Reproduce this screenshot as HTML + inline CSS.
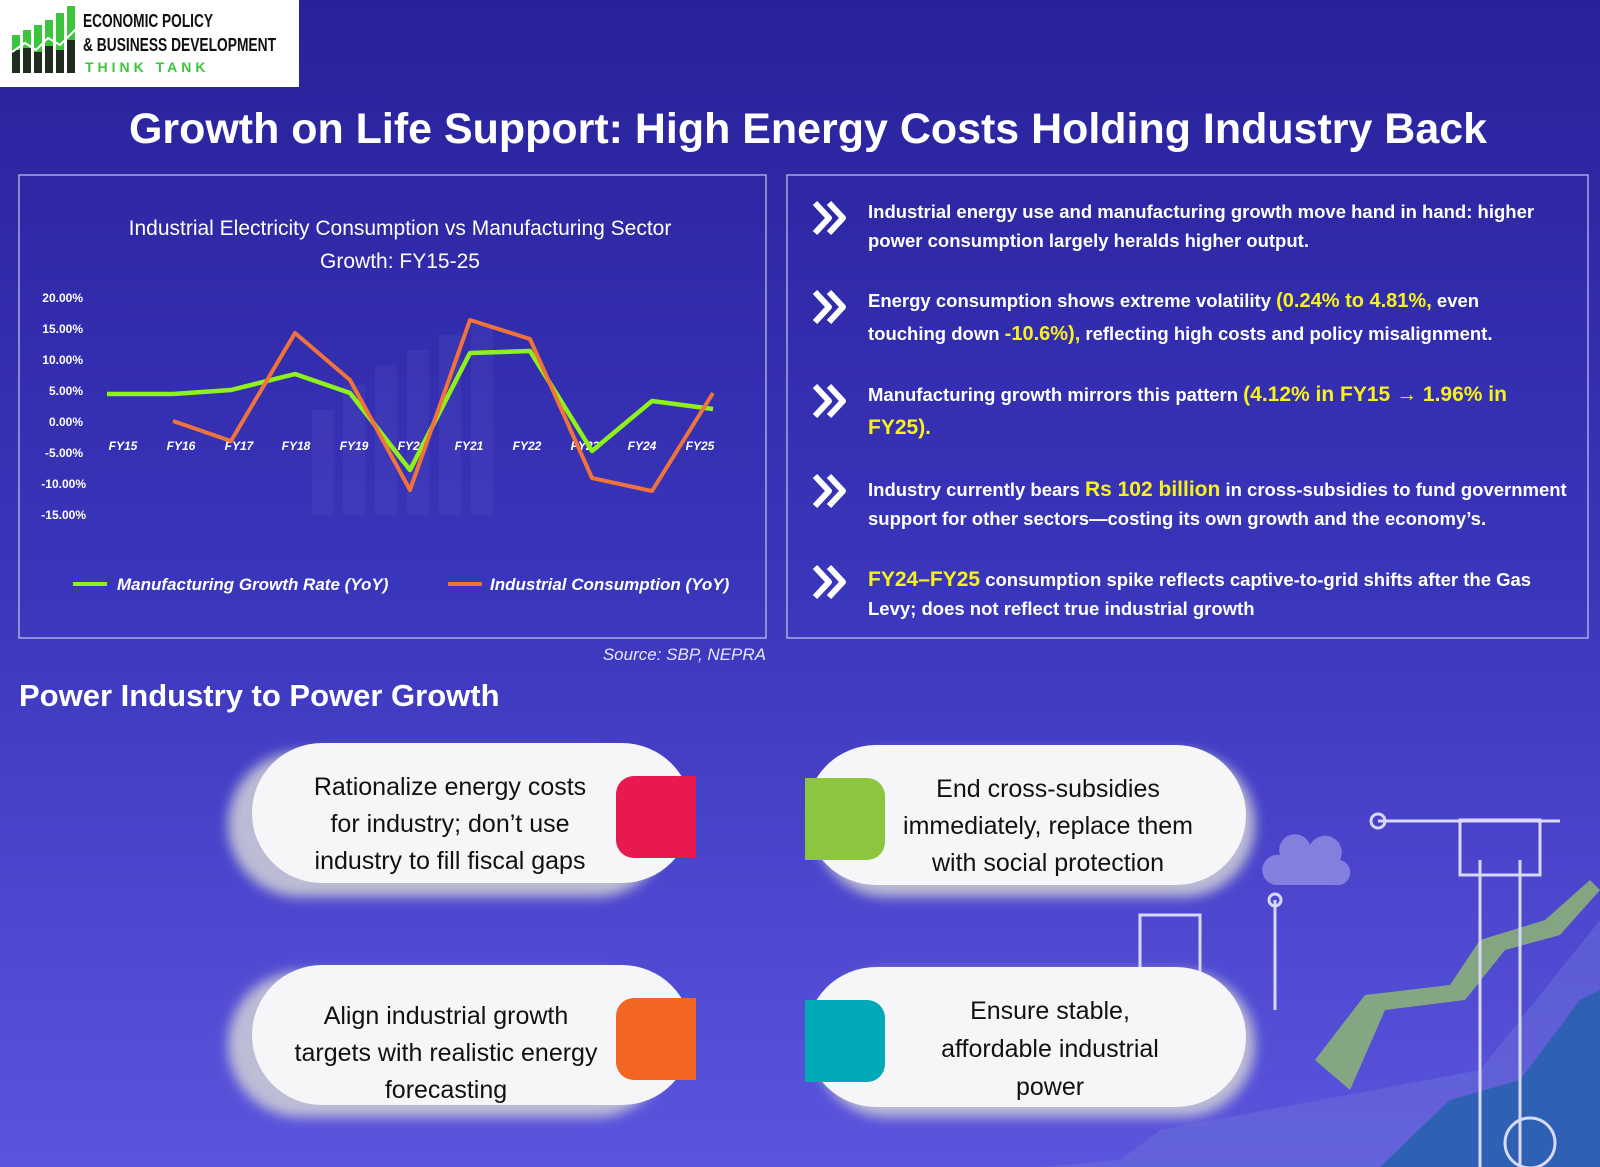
<!DOCTYPE html>
<html style="background:#5b55de"><head><meta charset="utf-8"><style>
html,body{margin:0;padding:0;background:#5b55de;}
body{width:1600px;height:1167px;overflow:hidden;font-family:"Liberation Sans",sans-serif;}
svg{display:block;}
</style></head><body>
<svg width="1600" height="1167" viewBox="0 0 1600 1167" xmlns="http://www.w3.org/2000/svg" font-family="Liberation Sans, sans-serif">
<defs>
<linearGradient id="bg" x1="0" y1="0" x2="0" y2="1">
<stop offset="0" stop-color="#28219a"/><stop offset="0.5" stop-color="#3a36bb"/><stop offset="1" stop-color="#5b55de"/>
</linearGradient>
<filter id="sh" x="-20%" y="-20%" width="140%" height="160%"><feGaussianBlur stdDeviation="6"/></filter>
</defs>
<rect width="1600" height="1167" fill="url(#bg)"/>
<!-- logo -->
<rect x="0" y="0" width="299" height="87" fill="#fff"/>
<g fill="#3cc43c"><rect x="12" y="35" width="8" height="38"/><rect x="23" y="30" width="8" height="43"/><rect x="34" y="25" width="8" height="48"/><rect x="45" y="20" width="8" height="53"/><rect x="56" y="13" width="8" height="60"/><rect x="67" y="6" width="8" height="67"/></g>
<g fill="#1f2d1f"><rect x="12" y="50" width="8" height="23"/><rect x="23" y="48" width="8" height="25"/><rect x="34" y="52" width="8" height="21"/><rect x="45" y="46" width="8" height="27"/><rect x="56" y="50" width="8" height="23"/><rect x="67" y="40" width="8" height="33"/></g>
<polyline points="12,52 25,43 36,50 48,38 60,45 80,25" fill="none" stroke="#fff" stroke-width="2"/>
<text x="83" y="27" font-size="18" font-weight="bold" fill="#111" textLength="130" lengthAdjust="spacingAndGlyphs">ECONOMIC POLICY</text>
<text x="83" y="51" font-size="18" font-weight="bold" fill="#111" textLength="193" lengthAdjust="spacingAndGlyphs">&amp; BUSINESS DEVELOPMENT</text>
<text x="85" y="72" font-size="14" font-weight="bold" fill="#3cc43c" letter-spacing="4">THINK TANK</text>
<!-- title -->
<text x="808" y="143" text-anchor="middle" font-size="43" font-weight="bold" fill="#fff" textLength="1358" lengthAdjust="spacingAndGlyphs">Growth on Life Support: High Energy Costs Holding Industry Back</text>
<!-- chart box -->
<rect x="19" y="175" width="747" height="463" fill="none" stroke="#c8c4f0" stroke-width="1.2"/>
<text x="400" y="235" text-anchor="middle" font-size="21" fill="#fff">Industrial Electricity Consumption vs Manufacturing Sector</text>
<text x="400" y="268" text-anchor="middle" font-size="21" fill="#fff">Growth: FY15-25</text>
<g font-size="12" fill="#fff" font-weight="bold" text-anchor="end">
<text x="83" y="302">20.00%</text><text x="83" y="333">15.00%</text><text x="83" y="364">10.00%</text><text x="83" y="395">5.00%</text><text x="83" y="426">0.00%</text><text x="83" y="457">-5.00%</text><text x="86" y="488">-10.00%</text><text x="86" y="519">-15.00%</text>
</g>
<!-- faint bars -->
<g fill="#5a54c8" opacity="0.22"><rect x="312" y="410" width="22" height="105"/><rect x="343" y="385" width="22" height="130"/><rect x="375" y="365" width="22" height="150"/><rect x="407" y="350" width="22" height="165"/><rect x="439" y="335" width="22" height="180"/><rect x="471" y="325" width="22" height="190"/></g>
<g font-size="12" fill="#fff" font-weight="bold" font-style="italic" text-anchor="middle">
<text x="123" y="450">FY15</text><text x="181" y="450">FY16</text><text x="239" y="450">FY17</text><text x="296" y="450">FY18</text><text x="354" y="450">FY19</text><text x="412" y="450">FY20</text><text x="469" y="450">FY21</text><text x="527" y="450">FY22</text><text x="585" y="450">FY23</text><text x="642" y="450">FY24</text><text x="700" y="450">FY25</text>
</g>
<polyline points="107,394 173,394 231,390 295,374 350,393 410,470 470,353 530,351 592,451 652,401 713,409" fill="none" stroke="#8ef21a" stroke-width="4.5" stroke-linejoin="round"/>
<polyline points="173,421 231,441 295,333 350,380 410,490 470,320 530,339 592,478 652,491 713,393" fill="none" stroke="#f0743a" stroke-width="4" stroke-linejoin="round"/>
<line x1="73" y1="584" x2="107" y2="584" stroke="#8ef21a" stroke-width="4"/>
<text x="117" y="590" font-size="17" fill="#fff" font-style="italic" font-weight="bold">Manufacturing Growth Rate (YoY)</text>
<line x1="448" y1="584" x2="482" y2="584" stroke="#f0743a" stroke-width="4"/>
<text x="490" y="590" font-size="17" fill="#fff" font-style="italic" font-weight="bold">Industrial Consumption (YoY)</text>
<text x="766" y="660" text-anchor="end" font-size="17" fill="#e8e6ff" font-style="italic">Source: SBP, NEPRA</text>
<!-- right box -->
<rect x="787" y="175" width="801" height="463" fill="none" stroke="#c8c4f0" stroke-width="1.2"/>
<g fill="none" stroke="#fff" stroke-width="6" stroke-linejoin="round">
<polyline points="815,203 829,218 815,233"/><polyline points="829,203 843,218 829,233"/>
<polyline points="815,292 829,307 815,322"/><polyline points="829,292 843,307 829,322"/>
<polyline points="815,386 829,401 815,416"/><polyline points="829,386 843,401 829,416"/>
<polyline points="815,476 829,491 815,506"/><polyline points="829,476 843,491 829,506"/>
<polyline points="815,567 829,582 815,597"/><polyline points="829,567 843,582 829,597"/>
</g>
<g font-size="18.5" font-weight="bold" fill="#fff">
<text x="868" y="218">Industrial energy use and manufacturing growth move hand in hand: higher</text>
<text x="868" y="247">power consumption largely heralds higher output.</text>
<text x="868" y="307">Energy consumption shows extreme volatility <tspan fill="#f7f21c" font-size="20">(0.24% to 4.81%,</tspan> even</text>
<text x="868" y="340">touching down <tspan fill="#f7f21c" font-size="20">-10.6%),</tspan> reflecting high costs and policy misalignment.</text>
<text x="868" y="401">Manufacturing growth mirrors this pattern <tspan fill="#f7f21c" font-size="21">(4.12% in FY15 → 1.96% in</tspan></text>
<text x="868" y="434" fill="#f7f21c" font-size="21">FY25).</text>
<text x="868" y="496">Industry currently bears <tspan fill="#f7f21c" font-size="21">Rs 102 billion</tspan> in cross-subsidies to fund government</text>
<text x="868" y="525">support for other sectors—costing its own growth and the economy’s.</text>
<text x="868" y="586"><tspan fill="#f7f21c" font-size="21">FY24–FY25</tspan> consumption spike reflects captive-to-grid shifts after the Gas</text>
<text x="868" y="615">Levy; does not reflect true industrial growth</text>
</g>
<text x="19" y="706" font-size="31" font-weight="bold" fill="#fff">Power Industry to Power Growth</text>
<!-- illustration -->
<g opacity="0.9">
<path d="M1040,1167 L1120,1160 L1160,1130 L1480,1070 L1600,920 L1600,1167 Z" fill="#6d73d8" opacity="0.5"/>
<path d="M1380,1167 L1450,1100 L1520,1080 L1580,1000 L1600,990 L1600,1167 Z" fill="#2a62b0"/>
<polygon points="1315,1060 1365,995 1450,985 1480,940 1545,920 1590,880 1600,890 1560,935 1505,950 1465,1000 1385,1010 1350,1090" fill="#8bb07a"/>
<g stroke="#e8e8ff" stroke-width="3" fill="none">
<line x1="1480" y1="860" x2="1480" y2="1167"/><line x1="1520" y1="860" x2="1520" y2="1167"/>
<rect x="1460" y="820" width="80" height="55"/>
<line x1="1378" y1="821" x2="1560" y2="821"/>
<circle cx="1378" cy="821" r="7"/>
<circle cx="1530" cy="1143" r="25"/>
<line x1="1275" y1="900" x2="1275" y2="1010"/><circle cx="1275" cy="900" r="6"/>
<rect x="1140" y="915" width="60" height="70"/>
</g>
<path d="M1280,855 a15,15 0 0 1 30,-10 a15,15 0 0 1 30,15 a12,12 0 0 1 -5,25 h-60 a12,12 0 0 1 5,-30z" fill="#8a86e0"/>
</g>
<!-- cards -->
<g filter="url(#sh)" fill="#c9c9d6" opacity="0.9">
<rect x="228" y="752" width="440" height="145" rx="72"/>
<rect x="815" y="752" width="440" height="145" rx="72"/>
<rect x="228" y="972" width="440" height="145" rx="72"/>
<rect x="815" y="972" width="440" height="145" rx="72"/>
</g>
<g fill="#f6f6f8">
<rect x="252" y="743" width="440" height="140" rx="70"/>
<rect x="806" y="745" width="440" height="140" rx="70"/>
<rect x="252" y="965" width="440" height="140" rx="70"/>
<rect x="806" y="967" width="440" height="140" rx="70"/>
</g>
<rect x="616" y="776" width="80" height="82" rx="18" fill="#e8194f"/><rect x="680" y="776" width="16" height="82" fill="#e8194f"/>
<rect x="805" y="778" width="80" height="82" rx="18" fill="#8cc63f"/><rect x="805" y="778" width="16" height="82" fill="#8cc63f"/>
<rect x="616" y="998" width="80" height="82" rx="18" fill="#f26522"/><rect x="680" y="998" width="16" height="82" fill="#f26522"/>
<rect x="805" y="1000" width="80" height="82" rx="18" fill="#00a9b8"/><rect x="805" y="1000" width="16" height="82" fill="#00a9b8"/>
<g font-size="25" fill="#111" text-anchor="middle">
<text x="450" y="795">Rationalize energy costs</text>
<text x="450" y="832">for industry; don’t use</text>
<text x="450" y="869">industry to fill fiscal gaps</text>
<text x="1048" y="797">End cross-subsidies</text>
<text x="1048" y="834">immediately, replace them</text>
<text x="1048" y="871">with social protection</text>
<text x="446" y="1024">Align industrial growth</text>
<text x="446" y="1061">targets with realistic energy</text>
<text x="446" y="1098">forecasting</text>
<text x="1050" y="1019">Ensure stable,</text>
<text x="1050" y="1057">affordable industrial</text>
<text x="1050" y="1095">power</text>
</g>
</svg>
</body></html>
